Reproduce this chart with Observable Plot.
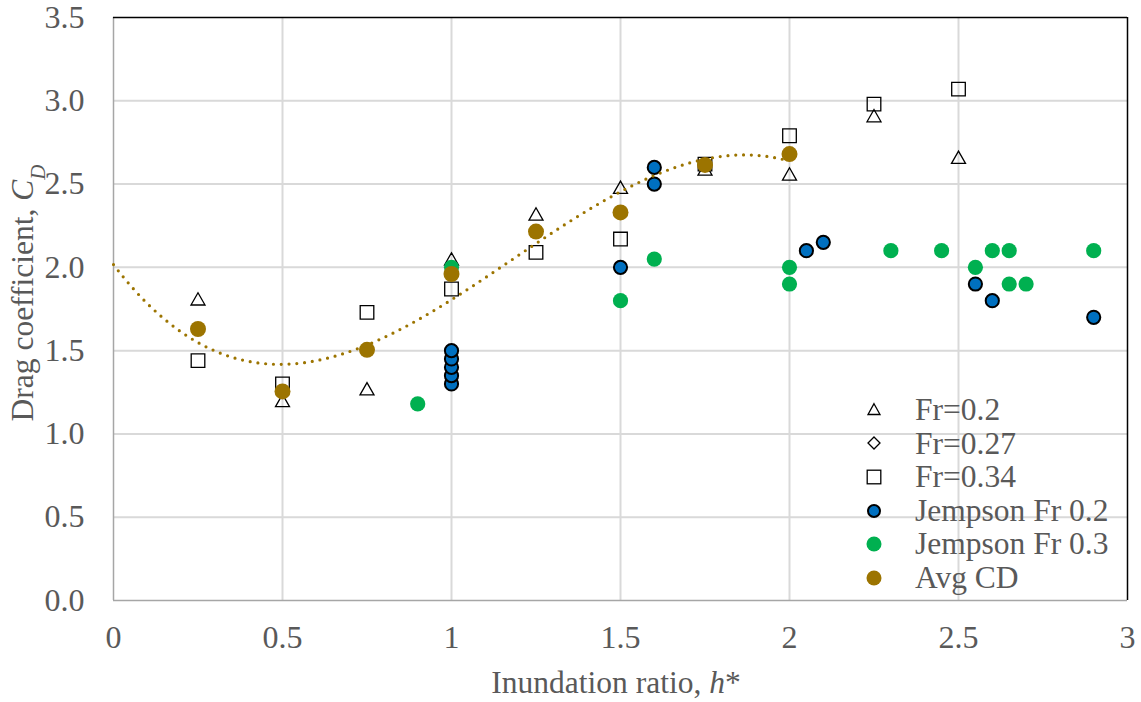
<!DOCTYPE html>
<html><head><meta charset="utf-8">
<script src="https://cdn.jsdelivr.net/npm/d3@7"></script>
<script src="https://cdn.jsdelivr.net/npm/@observablehq/plot@0.6"></script>
<style>
body{margin:0;background:#fff;}
#wrap{position:relative;width:1141px;height:702px;font-family:"Liberation Serif","Times New Roman",serif;}
#legend{position:absolute;left:857px;top:393px;color:#595959;font-size:31.5px;line-height:33.6px;}
.row{display:flex;align-items:center;height:33.6px;white-space:nowrap;}
.row svg{width:34px;height:20px;margin-right:24px;flex:none;}
</style></head>
<body><div id="wrap"></div>
<script>
// ---- data ----
const hStar  = [0.25, 0.5, 0.75, 1, 1.25, 1.5, 1.75, 2, 2.25, 2.5];
const fr020  = [1.81, 1.20, 1.27, 2.05, 2.32, 2.48, 2.59, 2.56, 2.91, 2.66];
const fr027X = [];   // no visible points
const fr027Y = [];
const fr034  = [1.44, 1.30, 1.73, 1.87, 2.09, 2.17, 2.62, 2.79, 2.98, 3.07];
const jemp02X = [1, 1, 1, 1, 1, 1.5, 1.6, 1.6, 2.05, 2.1, 2.55, 2.6, 2.9];
const jemp02Y = [1.30, 1.35, 1.40, 1.45, 1.50, 2.0, 2.5, 2.6, 2.1, 2.15, 1.9, 1.8, 1.7];
const jemp03X = [0.9, 1, 1.5, 1.6, 2, 2, 2.3, 2.45, 2.55, 2.6, 2.65, 2.65, 2.7, 2.9];
const jemp03Y = [1.18, 2.0, 1.8, 2.05, 2.0, 1.9, 2.1, 2.1, 2.0, 2.1, 2.1, 1.9, 1.9, 2.1];
const avgX = [0.25, 0.5, 0.75, 1, 1.25, 1.5, 1.75, 2];
const avgY = [1.63, 1.255, 1.505, 1.96, 2.215, 2.33, 2.615, 2.68];
const xTicks = [0, 0.5, 1, 1.5, 2, 2.5, 3];
const yTicks = [0, 0.5, 1, 1.5, 2, 2.5, 3, 3.5];
const seriesNames = ["Fr=0.2", "Fr=0.27", "Fr=0.34", "Jempson Fr 0.2", "Jempson Fr 0.3", "Avg CD"];

// ---- derived tables ----
const zip = (xs, ys) => xs.map((x, i) => ({x, y: ys[i]}));
const dFr020 = zip(hStar, fr020);
const dFr027 = zip(fr027X, fr027Y);
const dFr034 = zip(hStar, fr034);
const dJ02 = zip(jemp02X, jemp02Y);
const dJ03 = zip(jemp03X, jemp03Y);
const dAvg = zip(avgX, avgY);

// cubic polynomial trendline (least squares) of Avg CD, as in the spreadsheet, extended back to 0
function polyfit(xs, ys, deg) {
  const n = deg + 1;
  const A = Array.from({length: n}, (_, i) => Array.from({length: n}, (_, j) => d3.sum(xs, x => x ** (i + j))));
  const b = Array.from({length: n}, (_, i) => d3.sum(xs, (x, k) => ys[k] * x ** i));
  for (let c = 0; c < n; c++) {
    let p = c; for (let r = c + 1; r < n; r++) if (Math.abs(A[r][c]) > Math.abs(A[p][c])) p = r;
    [A[c], A[p]] = [A[p], A[c]]; [b[c], b[p]] = [b[p], b[c]];
    for (let r = c + 1; r < n; r++) { const f = A[r][c] / A[c][c]; for (let k = c; k < n; k++) A[r][k] -= f * A[c][k]; b[r] -= f * b[c]; }
  }
  const co = new Array(n).fill(0);
  for (let r = n - 1; r >= 0; r--) { let s = b[r]; for (let k = r + 1; k < n; k++) s -= A[r][k] * co[k]; co[r] = s / A[r][r]; }
  return x => co.reduce((acc, c, i) => acc + c * x ** i, 0);
}
const fit = polyfit(avgX, avgY, 3);
const trend = d3.range(0, 2.0001, 0.01).map(x => ({x, y: fit(x)}));

// ---- symbols ----
const tri = {draw(c) { c.moveTo(0, -6.3); c.lineTo(7, 6); c.lineTo(-7, 6); c.closePath(); }};
const sq = {draw(c) { c.rect(-6.8, -6.8, 13.6, 13.6); }};
const dia = {draw(c) { c.moveTo(0, -6.5); c.lineTo(6.5, 0); c.lineTo(0, 6.5); c.lineTo(-6.5, 0); c.closePath(); }};

const BLUE = "#0070C0", GREEN = "#00B050", BROWN = "#9C7400";

const chart = Plot.plot({
  width: 1141, height: 702,
  marginLeft: 113, marginRight: 14, marginTop: 17, marginBottom: 102,
  style: {fontFamily: '"Liberation Serif","Times New Roman",serif', fontSize: "32px", color: "#595959", background: "#fff"},
  x: {domain: [0, 3], ticks: xTicks, tickFormat: d => String(d), tickSize: 0, tickPadding: 25, label: null},
  y: {domain: [0, 3.5], ticks: yTicks, tickFormat: d3.format(".1f"), tickSize: 0, tickPadding: 29, label: null},
  marks: [
    Plot.gridX(xTicks.slice(1, -1), {stroke: "#d9d9d9", strokeOpacity: 1, strokeWidth: 2}),
    Plot.gridY(yTicks.slice(1, -1), {stroke: "#d9d9d9", strokeOpacity: 1, strokeWidth: 2}),
    Plot.ruleX([0], {stroke: "#a6a6a6", strokeWidth: 1.5}),
    Plot.ruleY([0], {stroke: "#a6a6a6", strokeWidth: 1.5}),
    Plot.ruleX([3], {stroke: "#000", strokeWidth: 1.5}),
    Plot.ruleY([3.5], {stroke: "#000", strokeWidth: 1.5}),
    Plot.dot(dFr020, {x: "x", y: "y", symbol: tri, stroke: "#000", strokeWidth: 1.3, fill: "none"}),
    Plot.dot(dFr027, {x: "x", y: "y", symbol: dia, stroke: "#000", strokeWidth: 1.3, fill: "none"}),
    Plot.dot(dFr034, {x: "x", y: "y", symbol: sq, stroke: "#000", strokeWidth: 1.3, fill: "none"}),
    Plot.dot(dJ02, {x: "x", y: "y", r: 6.6, fill: BLUE, stroke: "#000", strokeWidth: 2}),
    Plot.dot(dJ03, {x: "x", y: "y", r: 7.6, fill: GREEN}),
    Plot.dot(dAvg, {x: "x", y: "y", r: 8, fill: BROWN}),
    Plot.line(trend, {x: "x", y: "y", stroke: BROWN, strokeWidth: 3.2, strokeDasharray: "0 7.8", strokeLinecap: "round"})
  ]
});

const wrap = document.getElementById("wrap");
wrap.appendChild(chart);

// axis titles (with italic / subscript parts)
const svg = d3.select(chart);
const xt = svg.append("text").attr("x", 616).attr("y", 693).attr("text-anchor", "middle")
  .attr("fill", "#595959").style("font-size", "31.5px");
xt.append("tspan").text("Inundation ratio, ");
xt.append("tspan").attr("font-style", "italic").text("h");
xt.append("tspan").text("*");
const yt = svg.append("text").attr("transform", "translate(33,293) rotate(-90)").attr("text-anchor", "middle")
  .attr("fill", "#595959").style("font-size", "31.5px");
yt.append("tspan").text("Drag coefficient, ");
yt.append("tspan").attr("font-style", "italic").text("C");
yt.append("tspan").attr("font-style", "italic").attr("font-size", "21px").attr("baseline-shift", "sub").text("D");

// legend overlay
const legendSyms = [
  '<path d="M17,3.7L23,14.5L11,14.5Z" fill="none" stroke="#000" stroke-width="1.3"/>',
  '<path d="M17,4L23,10L17,16L11,10Z" fill="none" stroke="#000" stroke-width="1.3"/>',
  '<rect x="10.2" y="3.2" width="13.6" height="13.6" fill="none" stroke="#000" stroke-width="1.3"/>',
  `<circle cx="17" cy="10" r="6" fill="${BLUE}" stroke="#000" stroke-width="2"/>`,
  `<circle cx="17" cy="10" r="7.5" fill="${GREEN}"/>`,
  `<circle cx="17" cy="10" r="7.5" fill="${BROWN}"/>`
];
const lg = document.createElement("div");
lg.id = "legend";
lg.innerHTML = seriesNames.map((n, i) =>
  `<div class="row"><svg viewBox="0 0 34 20">${legendSyms[i]}</svg><span>${n}</span></div>`).join("");
wrap.appendChild(lg);
</script>
</body></html>
